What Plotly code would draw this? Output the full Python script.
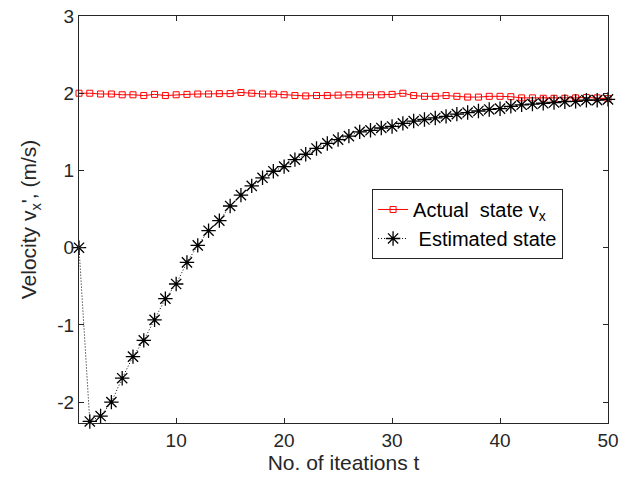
import plotly.graph_objects as go

t = list(range(1, 51))
actual = [2.00, 2.00, 1.99, 1.99, 1.98, 1.98, 1.97, 1.985, 1.97, 1.98,
          1.985, 1.99, 1.99, 1.995, 1.995, 2.01, 2.00, 1.99, 1.99, 1.98,
          1.97, 1.965, 1.97, 1.97, 1.975, 1.98, 1.98, 1.975, 1.98, 1.985,
          2.00, 1.97, 1.96, 1.96, 1.97, 1.96, 1.95, 1.95, 1.96, 1.96,
          1.955, 1.94, 1.94, 1.935, 1.935, 1.935, 1.94, 1.945, 1.94, 1.93]
estimated = [0.00, -2.25, -2.18, -2.00, -1.69, -1.41, -1.20, -0.935, -0.66, -0.47,
             -0.19, 0.03, 0.22, 0.35, 0.54, 0.68, 0.80, 0.905, 0.99, 1.05,
             1.14, 1.21, 1.285, 1.35, 1.40, 1.445, 1.50, 1.52, 1.55, 1.57,
             1.61, 1.64, 1.66, 1.68, 1.70, 1.73, 1.75, 1.77, 1.79, 1.80,
             1.83, 1.85, 1.86, 1.87, 1.88, 1.89, 1.895, 1.91, 1.91, 1.92]
x_ticks = [10, 20, 30, 40, 50]
y_ticks = [-2, -1, 0, 1, 2, 3]
y_tick_labels = ["-2", "-1", "0", "1", "2", "3"]

font_family = "Liberation Sans, Arial, sans-serif"

fig = go.Figure()
fig.add_trace(go.Scatter(
    x=t, y=actual, mode="lines+markers",
    name="Actual  state v<sub>x</sub>",
    line=dict(color="#ff0000", width=1),
    marker=dict(symbol="square-open", size=6, color="#ff0000", line=dict(width=1, color="#ff0000")),
    cliponaxis=False,
))
fig.add_trace(go.Scatter(
    x=t, y=estimated, mode="lines+markers",
    name=" Estimated state",
    line=dict(color="#000000", width=1, dash="1px,2px"),
    marker=dict(symbol="asterisk-open", size=12, color="#000000", line=dict(width=1.3, color="#000000")),
    cliponaxis=False,
))

axis_common = dict(
    showline=True, linecolor="#262626", linewidth=1, mirror="ticks",
    ticks="inside", ticklen=5, tickcolor="#262626",
    showgrid=False, zeroline=False, automargin=False,
    ticklabeloverflow="allow",
    tickfont=dict(family=font_family, size=19, color="#262626"),
)

fig.update_layout(
    width=620, height=485,
    margin=dict(l=79, r=12, t=16, b=62),
    paper_bgcolor="white", plot_bgcolor="white",
    font=dict(family=font_family, color="#262626"),
    showlegend=True,
    legend=dict(
        x=0.554, y=0.575, xanchor="left", yanchor="top",
        bgcolor="white", bordercolor="#262626", borderwidth=1,
        font=dict(family=font_family, size=20, color="#000000"),
        tracegroupgap=0,
    ),
    xaxis=dict(
        range=[1, 50], tickvals=x_ticks,
        title=dict(text="No. of iteations t", font=dict(family=font_family, size=21, color="#262626"), standoff=4),
        **axis_common,
    ),
    yaxis=dict(
        range=[-2.27, 3], tickvals=y_ticks, ticktext=y_tick_labels,
        title=dict(text="Velocity v<sub>x</sub>', (m/s)", font=dict(family=font_family, size=21, color="#262626"), standoff=14),
        **axis_common,
    ),
)

# remove the default 8px page margin so the figure fills the window exactly
fig.write_html("out.html", config={"displayModeBar": False},
               post_script="document.body.style.margin='0';")
